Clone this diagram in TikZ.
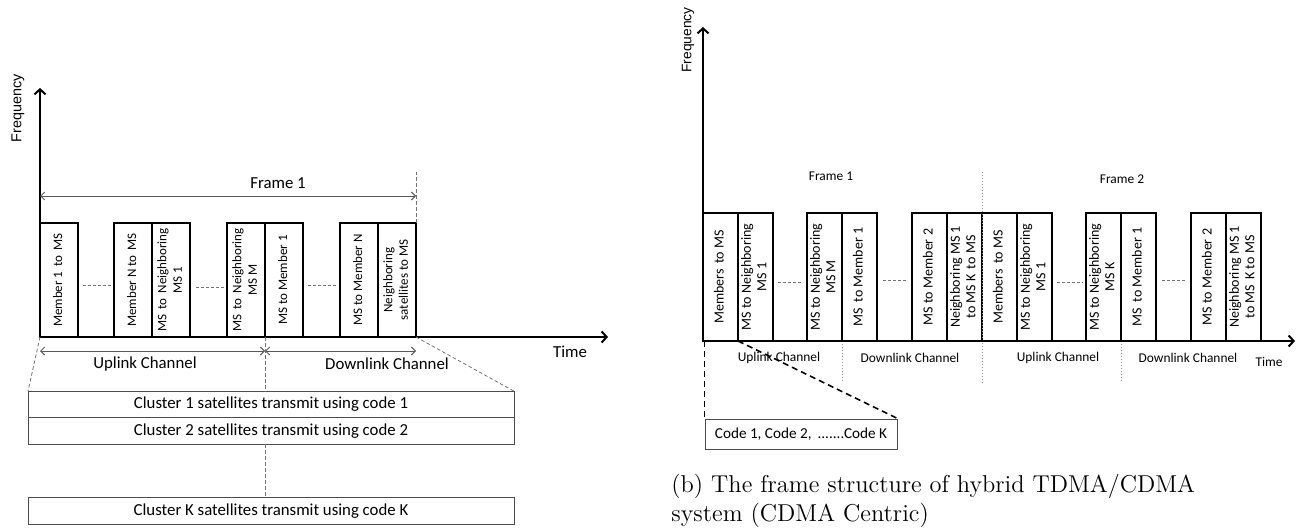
\documentclass[tikz,border=0pt]{standalone}
\usepackage{fontspec}
\usepackage{graphicx}
\newfontfamily\carl{Carlito}
\newfontfamily\arl{Liberation Sans}
\usepackage{tikz}
\usetikzlibrary{arrows.meta, positioning, calc}
\newcommand{\vtext}[1]{\rotatebox{90}{\begin{tabular}{@{}c@{}}#1\end{tabular}}}
\begin{document}
\begin{tikzpicture}[x=0.5pt, y=-0.5pt,
  slot/.style={rectangle, draw, line width=1pt, inner sep=0pt, outer sep=0pt,
    minimum width=19pt, minimum height=57pt,
    font=\carl\fontsize{6.5}{7.8}\selectfont},
  rslot/.style={slot, minimum width=17.5pt, minimum height=64pt,
    font=\carl\fontsize{7}{7.8}\selectfont},
  band/.style={rectangle, draw=black!70, line width=0.5pt, inner sep=0pt,
    outer sep=0pt, minimum width=243pt, minimum height=13.3pt,
    font=\carl\fontsize{8.4}{10}\selectfont},
  axis/.style={-{Straight Barb[length=2.5pt,width=5.5pt]}, line width=1pt},
  span/.style={{Straight Barb[length=2pt,width=4pt]}-{Straight Barb[length=2pt,width=4pt]},
    black!65, line width=0.45pt},
  guide/.style={dash pattern=on 1.8pt off 1.2pt, black!55, line width=0.4pt},
  gap/.style={dash pattern=on 1.5pt off 1pt, black!55, line width=0.4pt},
  sep/.style={densely dotted, black!40, line width=0.5pt},
  zoomline/.style={dash pattern=on 3pt off 2pt, line width=0.8pt},
  lbl/.style={font=\carl\fontsize{8.4}{10}\selectfont, inner sep=0pt},
  rlbl/.style={font=\carl\fontsize{6.7}{8}\selectfont, inner sep=0pt}
]
\useasboundingbox (0,0) rectangle (1304,529);

% ---- left: TDMA centric ----
\coordinate (lo) at (40,337);
\coordinate (lf) at (40,88);
\coordinate (lt) at (608,337);
\coordinate (f1l) at (40,196);
\coordinate (f1r) at (416,196);
\coordinate (ulr) at (265,351);
\coordinate (ull) at (40,351);
\coordinate (dlr) at (416,351);

\node[slot] (b1) at (59,280) {\vtext{Member 1 \,to\, MS}};
\node[slot] (b2) at (133,280) {\vtext{Member N to\, MS}};
\node[slot, right=0pt of b2] (b3) {\vtext{MS \,to\, Neighboring\\MS 1}};
\node[slot] (b4) at (246,280) {\vtext{MS \,to\, Neighboring\\MS M}};
\node[slot, right=0pt of b4] (b5) {\vtext{MS to Member 1}};
\node[slot] (b6) at (359,280) {\vtext{MS to Member N}};
\node[slot, right=0pt of b6] (b7) {\vtext{Neighboring\\satellites to MS}};

\draw[gap] ([xshift=2.5pt,yshift=-2.5pt]b1.east) -- ([xshift=-1pt,yshift=-2.5pt]b2.west);
\draw[gap] ([xshift=3pt,yshift=-3.5pt]b3.east) -- ([xshift=-1pt,yshift=-3.5pt]b4.west);
\draw[gap] ([xshift=2.5pt,yshift=-2.5pt]b5.east) -- ([xshift=-1.5pt,yshift=-2.5pt]b6.west);

\draw[axis] (lo) -- (lf);
\draw[axis] (lo) -- (lt);
\node[font=\arl\fontsize{7.2}{8}\selectfont, rotate=90, inner sep=0pt] (lfreq) at (18,108) {Frequency};
\node[lbl] (ltime) at (570,352) {Time};

\draw[guide] (b7.north east) -- ++(0,-51);
\draw[span] (f1l) -- (f1r);
\node[lbl] (lframe) at (278,183) {Frame 1};

\draw[span] (ull) -- (ulr);
\draw[span] (ulr) -- (dlr);
\node[lbl] (lup) at (145,364) {Uplink Channel};
\node[lbl] (ldown) at (387,364) {Downlink Channel};

\node[band] (c1) at (271,404.5) {Cluster 1 satellites transmit using code 1};
\node[band, below=0pt of c1] (c2) {Cluster 2 satellites transmit using code 2};
\node[band] (ck) at (271,511) {Cluster K satellites transmit using code K};

\draw[guide] (lo) -- (c1.north west);
\draw[guide] (b7.south east) -- (c1.north east);
\draw[guide] (b4.south east) -- (b4.south east |- c1.north);
\draw[guide] (b4.south east |- c2.south) -- (b4.south east |- ck.north);

% ---- right: CDMA centric ----
\coordinate (ro) at (703,341);
\coordinate (rf) at (703,27);
\coordinate (rt) at (1295,341);

\node[rslot] (r1) at (720.5,277) {\vtext{Members \,to MS}};
\node[rslot, right=0pt of r1] (r2) {\vtext{MS to Neighboring\\MS 1}};
\node[rslot] (r3) at (824.5,277) {\vtext{MS to Neighboring\\MS M}};
\node[rslot, right=0pt of r3] (r4) {\vtext{MS \,to Member 1}};
\node[rslot] (r5) at (929.5,277) {\vtext{MS to Member 2}};
\node[rslot, right=0pt of r5] (r6) {\vtext{Neighboring MS 1\\to MS K \,to MS}};
\node[rslot, right=0pt of r6] (r7) {\vtext{Members \,to MS}};
\node[rslot, right=0pt of r7] (r8) {\vtext{MS to Neighboring\\MS 1}};
\node[rslot] (r9) at (1103.5,277) {\vtext{MS to Neighboring\\MS K}};
\node[rslot, right=0pt of r9] (r10) {\vtext{MS \,to Member 1}};
\node[rslot] (r11) at (1208.5,277) {\vtext{MS to Member 2}};
\node[rslot, right=0pt of r11] (r12) {\vtext{Neighboring MS 1\\to MS \,K to MS}};

\draw[gap] ([xshift=2.5pt,yshift=-2.5pt]r2.east) -- ([xshift=-2pt,yshift=-2.5pt]r3.west);
\draw[gap] ([xshift=3pt,yshift=-1.5pt]r4.east) -- ([xshift=-2pt,yshift=-1.5pt]r5.west);
\draw[gap] ([xshift=2.5pt,yshift=-2.5pt]r8.east) -- ([xshift=-1.5pt,yshift=-2.5pt]r9.west);
\draw[gap] ([xshift=3pt,yshift=-1.5pt]r10.east) -- ([xshift=-2pt,yshift=-1.5pt]r11.west);

\draw[sep] ([yshift=20.5pt]r6.north east) -- ([yshift=-21pt]r6.south east);
\draw[sep] (r4.south west) -- ([yshift=-21pt]r4.south west);
\draw[sep] (r10.south west) -- ([yshift=-21pt]r10.south west);

\draw[axis] (ro) -- (rf);
\draw[axis] (ro) -- (rt);
\node[font=\arl\fontsize{6.9}{8}\selectfont, rotate=90, inner sep=0pt] (rfreq) at (688,40) {Frequency};
\node[rlbl] (rtime) at (1269,362) {Time};

\node[rlbl] (rframe1) at (831,176) {Frame 1};
\node[rlbl] (rframe2) at (1122,179) {Frame 2};
\node[rlbl] (rup1) at (779,358) {Uplink Channel};
\node[rlbl] (rdown1) at (910,358) {Downlink Channel};
\node[rlbl] (rup2) at (1058,358) {Uplink Channel};
\node[rlbl] (rdown2) at (1188,358) {Downlink Channel};

\node[rectangle, draw=black!70, line width=0.5pt, minimum width=96pt,
  minimum height=15pt, inner sep=0pt, font=\carl\fontsize{7.6}{9}\selectfont]
  (code) at (801,434) {Code 1, Code 2, \,.......Code K};
\draw[zoomline] (code.north west |- r1.south) -- (code.north west);
\draw[zoomline] (r2.south west) -- (code.north east);

\node[anchor=base west, inner sep=0pt, font=\fontsize{12.2}{14.5}\selectfont]
  (cap1) at (671,492) {(b) The frame structure of hybrid TDMA/CDMA};
\node[anchor=base west, inner sep=0pt, font=\fontsize{12.2}{14.5}\selectfont]
  (cap2) at (671,521) {system (CDMA Centric)};
\end{tikzpicture}
\end{document}
